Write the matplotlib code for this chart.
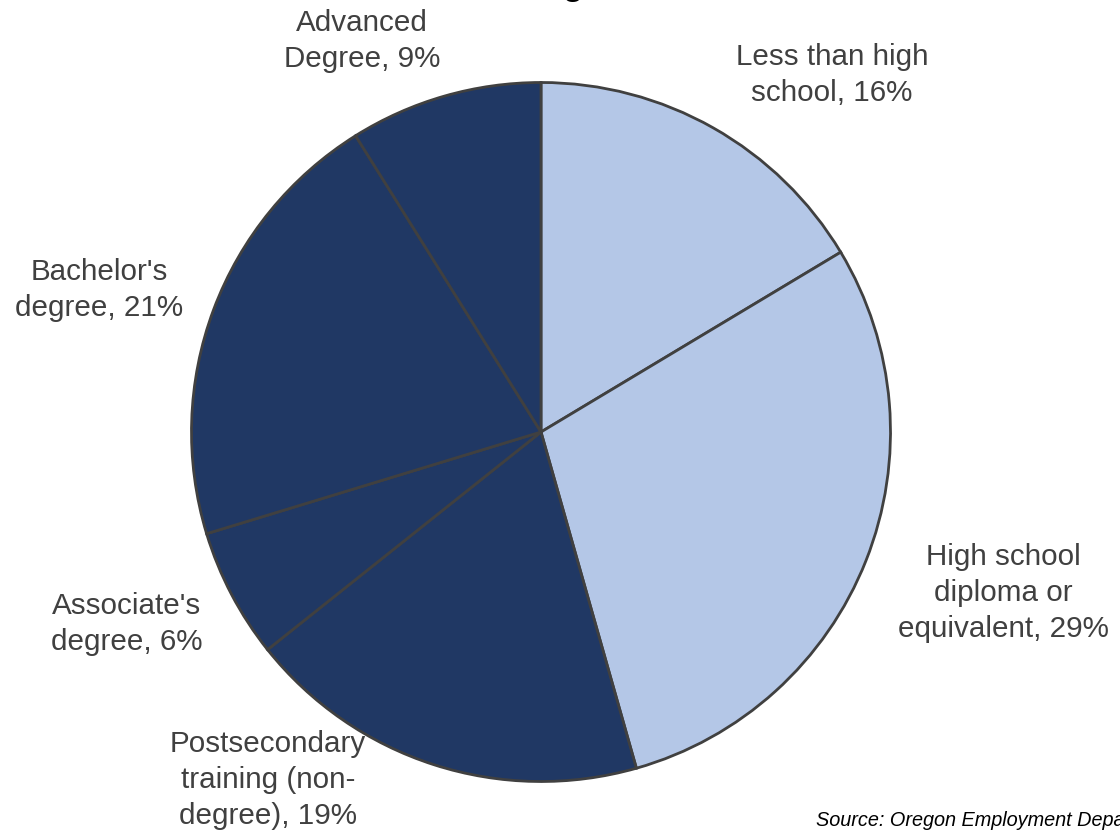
import matplotlib
matplotlib.use("Agg")
import matplotlib.pyplot as plt

plt.rcParams['font.family'] = ['Liberation Sans', 'DejaVu Sans']

# share of openings by education level (clockwise from 12 o'clock)
categories = ["Less than high\nschool", "High school\ndiploma or\nequivalent",
              "Postsecondary\ntraining (non-\ndegree)", "Associate's\ndegree",
              "Bachelor's\ndegree", "Advanced\nDegree"]
shares = [16.4, 29.2, 18.7, 6.0, 20.8, 8.9]
shown_pct = [16, 29, 19, 6, 21, 9]
colors = ["#B4C7E7", "#B4C7E7", "#203864", "#203864", "#203864", "#203864"]

W, H = 1120, 831
fig = plt.figure(figsize=(W / 100, H / 100), dpi=100)

cx, cy, r = 541, 432, 353
ax = fig.add_axes([(cx - r) / W, (H - cy - r) / H, 2 * r / W, 2 * r / H])
ax.pie(shares, colors=colors, startangle=90, counterclock=False, radius=1,
       wedgeprops=dict(edgecolor="#404040", linewidth=2))
ax.set_xlim(-1.01, 1.01)
ax.set_ylim(-1.01, 1.01)
ax.axis("off")

# label centres in pixels (x, y from top)
label_pos = [(832, 75), (1003, 593), (268, 780), (127, 624), (99, 290), (362, 41)]
for name, pct, (x, y) in zip(categories, shown_pct, label_pos):
    fig.text(x / W, 1 - y / H, f"{name}, {pct}%", ha="center", va="center",
             fontsize=21.3, color="#404040", linespacing=1.37)

# title, mostly cut off at the top edge
fig.text(388 / W, 1 + 4.5 / H, "Education Levels of Job Listings, 2024", ha="center",
         va="baseline", fontsize=24, fontweight="bold", color="black")

fig.text(816 / W, 1 - 821 / H, "Source: Oregon Employment Department", ha="left",
         va="center", fontsize=14.3, style="italic", color="black")

fig.savefig("out.png", dpi=100)
